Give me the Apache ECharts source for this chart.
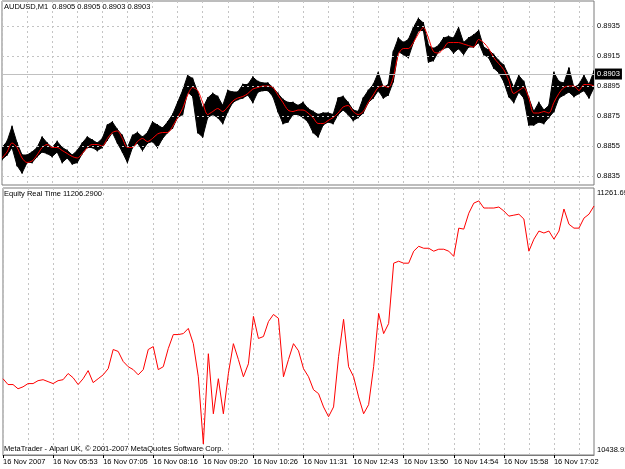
<!DOCTYPE html>
<html>
<head>
<meta charset="utf-8">
<script src="https://cdn.jsdelivr.net/npm/echarts@6/dist/echarts.min.js"></script>
<style>
  html, body { margin: 0; padding: 0; background: #fff; }
  #chart { width: 625px; height: 469px; }
</style>
</head>
<body>
<div id="chart"></div>
<script>
// AUDUSD M1, 16 Nov 2007 - one point per ~5 minutes of chart
var timeLabels = ['16 Nov 2007', '16 Nov 05:53', '16 Nov 07:05', '16 Nov 08:16', '16 Nov 09:20', '16 Nov 10:26',
  '16 Nov 11:31', '16 Nov 12:43', '16 Nov 13:50', '16 Nov 14:54', '16 Nov 15:58', '16 Nov 17:02'];

var barHigh = [
  0.8854, 0.8858, 0.8868, 0.8857, 0.8849, 0.8849, 0.8851, 0.8854, 0.8861, 0.8857,
  0.8854, 0.8858, 0.8854, 0.8852, 0.8849, 0.8852, 0.8857, 0.8861, 0.8859, 0.8857,
  0.8860, 0.8869, 0.8871, 0.8866, 0.8862, 0.8854, 0.8862, 0.8864, 0.8861, 0.8864,
  0.8871, 0.8869, 0.8867, 0.8871, 0.8876, 0.8884, 0.8892, 0.8902, 0.8900, 0.8891,
  0.8880, 0.8887, 0.8890, 0.8888, 0.8882, 0.8892, 0.8891, 0.8891, 0.8896, 0.8896,
  0.8901, 0.8898, 0.8897, 0.8897, 0.8894, 0.8890, 0.8886, 0.8884, 0.8884, 0.8882,
  0.8884, 0.8880, 0.8878, 0.8876, 0.8877, 0.8877, 0.8876, 0.8887, 0.8888, 0.8884,
  0.8879, 0.8878, 0.8887, 0.8892, 0.8896, 0.8904, 0.8894, 0.8896, 0.8918, 0.8927,
  0.8924, 0.8926, 0.8934, 0.8940, 0.8937, 0.8922, 0.8920, 0.8922, 0.8927, 0.8928,
  0.8927, 0.8934, 0.8924, 0.8927, 0.8929, 0.8932, 0.8921, 0.8919, 0.8916, 0.8912,
  0.8909, 0.8902, 0.8894, 0.8902, 0.8898, 0.8887, 0.8878, 0.8884, 0.8879, 0.8882,
  0.8904, 0.8898, 0.8897, 0.8907, 0.8894, 0.8896, 0.8902, 0.8896, 0.8905
];
var barLow = [
  0.8846, 0.8849, 0.8854, 0.8842, 0.8837, 0.8844, 0.8844, 0.8848, 0.8851, 0.8850,
  0.8848, 0.8851, 0.8844, 0.8847, 0.8843, 0.8844, 0.8850, 0.8854, 0.8854, 0.8852,
  0.8854, 0.8859, 0.8864, 0.8857, 0.8851, 0.8844, 0.8854, 0.8857, 0.8852, 0.8857,
  0.8858, 0.8854, 0.8860, 0.8864, 0.8867, 0.8874, 0.8876, 0.8891, 0.8888, 0.8864,
  0.8861, 0.8874, 0.8876, 0.8874, 0.8870, 0.8878, 0.8884, 0.8886, 0.8887, 0.8889,
  0.8884, 0.8891, 0.8892, 0.8892, 0.8888, 0.8878, 0.8870, 0.8871, 0.8876, 0.8876,
  0.8874, 0.8871, 0.8864, 0.8861, 0.8869, 0.8871, 0.8870, 0.8876, 0.8879, 0.8876,
  0.8872, 0.8874, 0.8877, 0.8884, 0.8887, 0.8892, 0.8887, 0.8889, 0.8898, 0.8918,
  0.8916, 0.8914, 0.8924, 0.8932, 0.8932, 0.8911, 0.8912, 0.8918, 0.8920, 0.8921,
  0.8917, 0.8920, 0.8916, 0.8921, 0.8921, 0.8924, 0.8916, 0.8914, 0.8907, 0.8904,
  0.8898, 0.8888, 0.8884, 0.8891, 0.8887, 0.8869, 0.8869, 0.8871, 0.8870, 0.8874,
  0.8878, 0.8887, 0.8889, 0.8891, 0.8888, 0.8890, 0.8892, 0.8887, 0.8894
];
// moving average (red)
var maLine = [
  0.8847, 0.8851, 0.8857, 0.8854, 0.8847, 0.8844, 0.8845, 0.8849, 0.8854, 0.8856,
  0.8854, 0.8854, 0.8852, 0.8850, 0.8848, 0.8847, 0.8850, 0.8854, 0.8856, 0.8856,
  0.8855, 0.8860, 0.8864, 0.8865, 0.8860, 0.8854, 0.8854, 0.8858, 0.8860, 0.8858,
  0.8860, 0.8863, 0.8864, 0.8864, 0.8868, 0.8874, 0.8880, 0.8889, 0.8894, 0.8892,
  0.8884, 0.8876, 0.8878, 0.8880, 0.8878, 0.8881, 0.8885, 0.8887, 0.8888, 0.8890,
  0.8893, 0.8894, 0.8895, 0.8895, 0.8894, 0.8889, 0.8884, 0.8879, 0.8878, 0.8879,
  0.8879, 0.8877, 0.8874, 0.8870, 0.8870, 0.8872, 0.8874, 0.8877, 0.8881, 0.8882,
  0.8878, 0.8876, 0.8878, 0.8884, 0.8889, 0.8894, 0.8895, 0.8894, 0.8901, 0.8916,
  0.8920, 0.8920, 0.8924, 0.8930, 0.8934, 0.8927, 0.8918, 0.8917, 0.8920, 0.8924,
  0.8924, 0.8924, 0.8923, 0.8922, 0.8921, 0.8926, 0.8924, 0.8920, 0.8914, 0.8910,
  0.8906, 0.8899, 0.8890, 0.8892, 0.8894, 0.8887, 0.8877, 0.8877, 0.8878, 0.8877,
  0.8884, 0.8890, 0.8894, 0.8895, 0.8895, 0.8892, 0.8896, 0.8896, 0.8895
];
// Equity Real Time
var equity = [
  10674, 10656, 10656, 10643, 10649, 10659, 10659, 10668, 10671, 10665,
  10659, 10668, 10671, 10690, 10677, 10656, 10674, 10699, 10662, 10674,
  10686, 10705, 10764, 10758, 10727, 10711, 10702, 10686, 10702, 10764,
  10773, 10702, 10711, 10767, 10810, 10810, 10813, 10829, 10782, 10680,
  10473, 10751, 10566, 10674, 10566, 10690, 10782, 10733, 10680, 10720,
  10866, 10798, 10804, 10850, 10872, 10860, 10680, 10733, 10782, 10760,
  10705, 10680, 10640, 10628, 10587, 10557, 10587, 10742, 10857, 10711,
  10680, 10618, 10566, 10594, 10711, 10875, 10813, 10844, 11030, 11036,
  11030, 11030, 11067, 11082, 11076, 11076, 11067, 11073, 11073, 11067,
  11051, 11138, 11135, 11184, 11215, 11222, 11200, 11200, 11200, 11203,
  11191, 11175, 11178, 11181, 11166, 11067, 11104, 11129, 11123, 11129,
  11104, 11129, 11197, 11150, 11138, 11138, 11169, 11181, 11206.29
];
var priceTicks = [0.8835, 0.8855, 0.8875, 0.8895, 0.8915, 0.8935];
var lastPrice = 0.8903;
var equityRange = [10438.91, 11261.69];

var font = 'Liberation Sans';
var cats = [];
for (var i = 0; i < barHigh.length; i++) cats.push(String(i));
// each item carries its own range and the next one, so the bars join up into a band
var barData = barHigh.map(function (h, i) {
  var j = Math.min(i + 1, barHigh.length - 1);
  return [i, h, barLow[i], j, barHigh[j], barLow[j]];
});

var gridDash = { color: '#c4c4c4', type: [2, 3], width: 1 };

let myChart = echarts.init(document.getElementById('chart'));
let option = {
  animation: false,
  backgroundColor: '#fff',
  textStyle: { fontFamily: font },
  title: [
    { text: 'AUDUSD,M1  0.8905 0.8905 0.8903 0.8903', left: 4, top: 3, padding: 0,
      textStyle: { fontSize: 7.5, fontWeight: 'normal', color: '#000', fontFamily: font } },
    { text: 'Equity Real Time 11206.2900', left: 4, top: 190, padding: 0,
      textStyle: { fontSize: 7.5, fontWeight: 'normal', color: '#000', fontFamily: font } },
    { text: 'MetaTrader - Alpari UK, \u00a9 2001-2007 MetaQuotes Software Corp.', left: 4, top: 445, padding: 0,
      textStyle: { fontSize: 7.5, fontWeight: 'normal', color: '#000', fontFamily: font } }
  ],
  grid: [
    { left: 2, right: 31, top: 1, height: 184, show: true, borderColor: '#7a7a7a', borderWidth: 1 },
    { left: 2, right: 31, top: 188, height: 267, show: true, borderColor: '#7a7a7a', borderWidth: 1 }
  ],
  xAxis: [
    {
      type: 'category', gridIndex: 0, data: cats, boundaryGap: false,
      axisLine: { show: false }, axisTick: { show: false }, axisLabel: { show: false },
      splitLine: { show: true, interval: 4, lineStyle: gridDash }
    },
    {
      type: 'category', gridIndex: 1, data: cats, boundaryGap: false,
      axisLine: { show: true, lineStyle: { color: '#7a7a7a' } },
      axisTick: { show: true, interval: 9, length: 3, lineStyle: { color: '#000' } },
      axisLabel: {
        show: true, interval: 9, align: 'left', margin: 3, fontSize: 7.5, color: '#000', fontFamily: font,
        formatter: function (v, idx) { return timeLabels[idx / 10] || ''; }
      },
      splitLine: { show: true, interval: 4, lineStyle: gridDash }
    }
  ],
  yAxis: [
    {
      type: 'value', gridIndex: 0, position: 'right', min: 0.8829, max: 0.89517,
      axisLine: { show: false }, axisTick: { show: false }, axisLabel: { show: false },
      splitLine: { show: false }
    },
    {
      type: 'value', gridIndex: 1, position: 'right', min: equityRange[0], max: equityRange[1],
      axisLine: { show: false }, axisTick: { show: false }, axisLabel: { show: false },
      splitLine: { show: false }
    }
  ],
  series: [
    {
      // price grid lines and right-hand price scale
      name: 'grid', type: 'line', xAxisIndex: 0, yAxisIndex: 0, data: [], z: 1,
      markLine: {
        silent: true, symbol: ['none', 'none'], animation: false, precision: 4,
        lineStyle: gridDash,
        label: {
          position: 'end', distance: 3, color: '#000', fontSize: 7.5, fontFamily: font,
          formatter: function (p) { return p.value.toFixed(4); }
        },
        data: priceTicks.map(function (v) { return { yAxis: v }; }).concat([{
          yAxis: lastPrice,
          lineStyle: { type: 'solid', color: '#c0c0c0' },
          label: { backgroundColor: '#000', color: '#fff', padding: [2, 2, 1, 2], distance: 1 }
        }])
      }
    },
    {
      name: 'AUDUSD', type: 'custom', xAxisIndex: 0, yAxisIndex: 0, z: 2, clip: true,
      data: barData,
      encode: { x: 0, y: [1, 2] },
      renderItem: function (params, api) {
        var h0 = api.coord([api.value(0), api.value(1)]);
        var l0 = api.coord([api.value(0), api.value(2)]);
        var h1 = api.coord([api.value(3), api.value(4)]);
        var l1 = api.coord([api.value(3), api.value(5)]);
        return {
          type: 'group',
          children: [
            {
              type: 'polygon',
              shape: { points: [h0, h1, l1, l0] },
              style: { fill: '#000', stroke: '#000', lineWidth: 1 }
            },
            {
              type: 'rect',
              shape: { x: h0[0] - 0.5, y: h0[1] - 1, width: 1, height: Math.max(1, l0[1] - h0[1]) + 2 },
              style: { fill: '#000' }
            }
          ]
        };
      }
    },
    {
      name: 'MA', type: 'line', xAxisIndex: 0, yAxisIndex: 0, z: 3,
      data: maLine, showSymbol: false, smooth: 0.3,
      lineStyle: { color: '#ff0000', width: 1 }
    },
    {
      name: 'Equity Real Time', type: 'line', xAxisIndex: 1, yAxisIndex: 1, z: 3,
      data: equity, showSymbol: false,
      lineStyle: { color: '#ff0000', width: 1 },
      markLine: {
        silent: true, symbol: ['none', 'none'], animation: false, precision: 2,
        lineStyle: { color: 'rgba(0,0,0,0)', width: 1 },
        label: {
          position: 'end', distance: 3, color: '#000', fontSize: 7.5, fontFamily: font, lineHeight: 10
        },
        data: [
          { yAxis: equityRange[1], label: { formatter: function (p) { return '\n' + p.value.toFixed(2); } } },
          { yAxis: equityRange[0], label: { formatter: function (p) { return p.value.toFixed(2) + '\n'; } } }
        ]
      }
    }
  ]
};

myChart.setOption(option);
</script>
</body>
</html>
